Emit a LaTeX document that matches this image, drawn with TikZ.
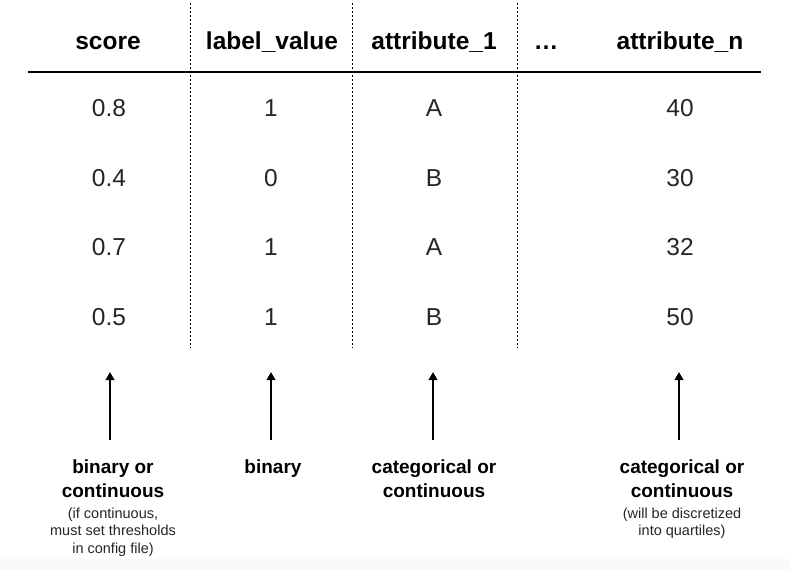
\documentclass[tikz,border=0pt]{standalone}
\usepackage{fontspec}
\setmainfont{Liberation Sans}
\usetikzlibrary{arrows.meta}
\definecolor{lightband}{HTML}{F9F9F9}
\definecolor{lighttext}{HTML}{262626}
\tikzset{
  head/.style={font=\fontsize{24.5}{28}\selectfont\bfseries, inner sep=0pt, anchor=base},
  cell/.style={font=\fontsize{24.5}{28}\selectfont, text=lighttext, inner sep=0pt, anchor=base},
  kind/.style={font=\fontsize{19}{24}\selectfont\bfseries, inner sep=0pt, align=center, anchor=base},
  note/.style={font=\fontsize{14.5}{17.5}\selectfont, text=lighttext, inner sep=0pt, align=center, anchor=base},
  sep/.style={line width=1pt, dash pattern=on 2pt off 2pt},
  rule/.style={line width=1.5pt},
  up/.style={line width=2pt, -{Triangle[length=8pt,width=8.5pt]}}
}
\begin{document}
\begin{tikzpicture}[x=1pt,y=-1pt]
\useasboundingbox (0,0) rectangle (790,570);
\fill[white] (0,0) rectangle (790,559);
\fill[lightband] (0,559) rectangle (790,570);

% header
\node[head] (h1) at (108,49) {score};
\node[head] (h2) at (272,49) {label\_value};
\node[head] (h3) at (434,49) {attribute\_1};
\node[head] (h4) at (546,49) {\dots};
\node[head] (h5) at (680,49) {attribute\_n};

% rule and separators
\coordinate (rl) at (28,72);
\coordinate (rr) at (761,72);
\draw[rule] (rl) -- (rr);
\foreach \x/\n in {190/s1,352/s2,517/s3} {
  \coordinate (\n t) at (\x,3);
  \coordinate (\n b) at (\x,348);
  \draw[sep] (\n t) -- (\n b);
}

% data
\node[cell] (c11) at (109,116) {0.8};
\node[cell] (c12) at (271,116) {1};
\node[cell] (c13) at (434,116) {A};
\node[cell] (c15) at (680,116) {40};
\node[cell] (c21) at (109,186) {0.4};
\node[cell] (c22) at (271,186) {0};
\node[cell] (c23) at (434,186) {B};
\node[cell] (c25) at (680,186) {30};
\node[cell] (c31) at (109,255) {0.7};
\node[cell] (c32) at (271,255) {1};
\node[cell] (c33) at (434,255) {A};
\node[cell] (c35) at (680,255) {32};
\node[cell] (c41) at (109,325) {0.5};
\node[cell] (c42) at (271,325) {1};
\node[cell] (c43) at (434,325) {B};
\node[cell] (c45) at (680,325) {50};

% arrows
\foreach \x/\n in {110/a1,271/a2,433/a3,679/a5} {
  \coordinate (\n b) at (\x,440);
  \coordinate (\n t) at (\x,372);
  \draw[up] (\n b) -- (\n t);
}

% bottom labels (base anchor = baseline of the last line)
\node[kind] (k1) at (113,497) {binary or\\continuous};
\node[note] (n1) at (113,553) {(if continuous,\\must set thresholds\\in config file)};
\node[kind] (k2) at (273,473) {binary};
\node[kind] (k3) at (434,497) {categorical or\\continuous};
\node[kind] (k5) at (682,497) {categorical or\\continuous};
\node[note] (n5) at (682,535.5) {(will be discretized\\into quartiles)};
\end{tikzpicture}
\end{document}
